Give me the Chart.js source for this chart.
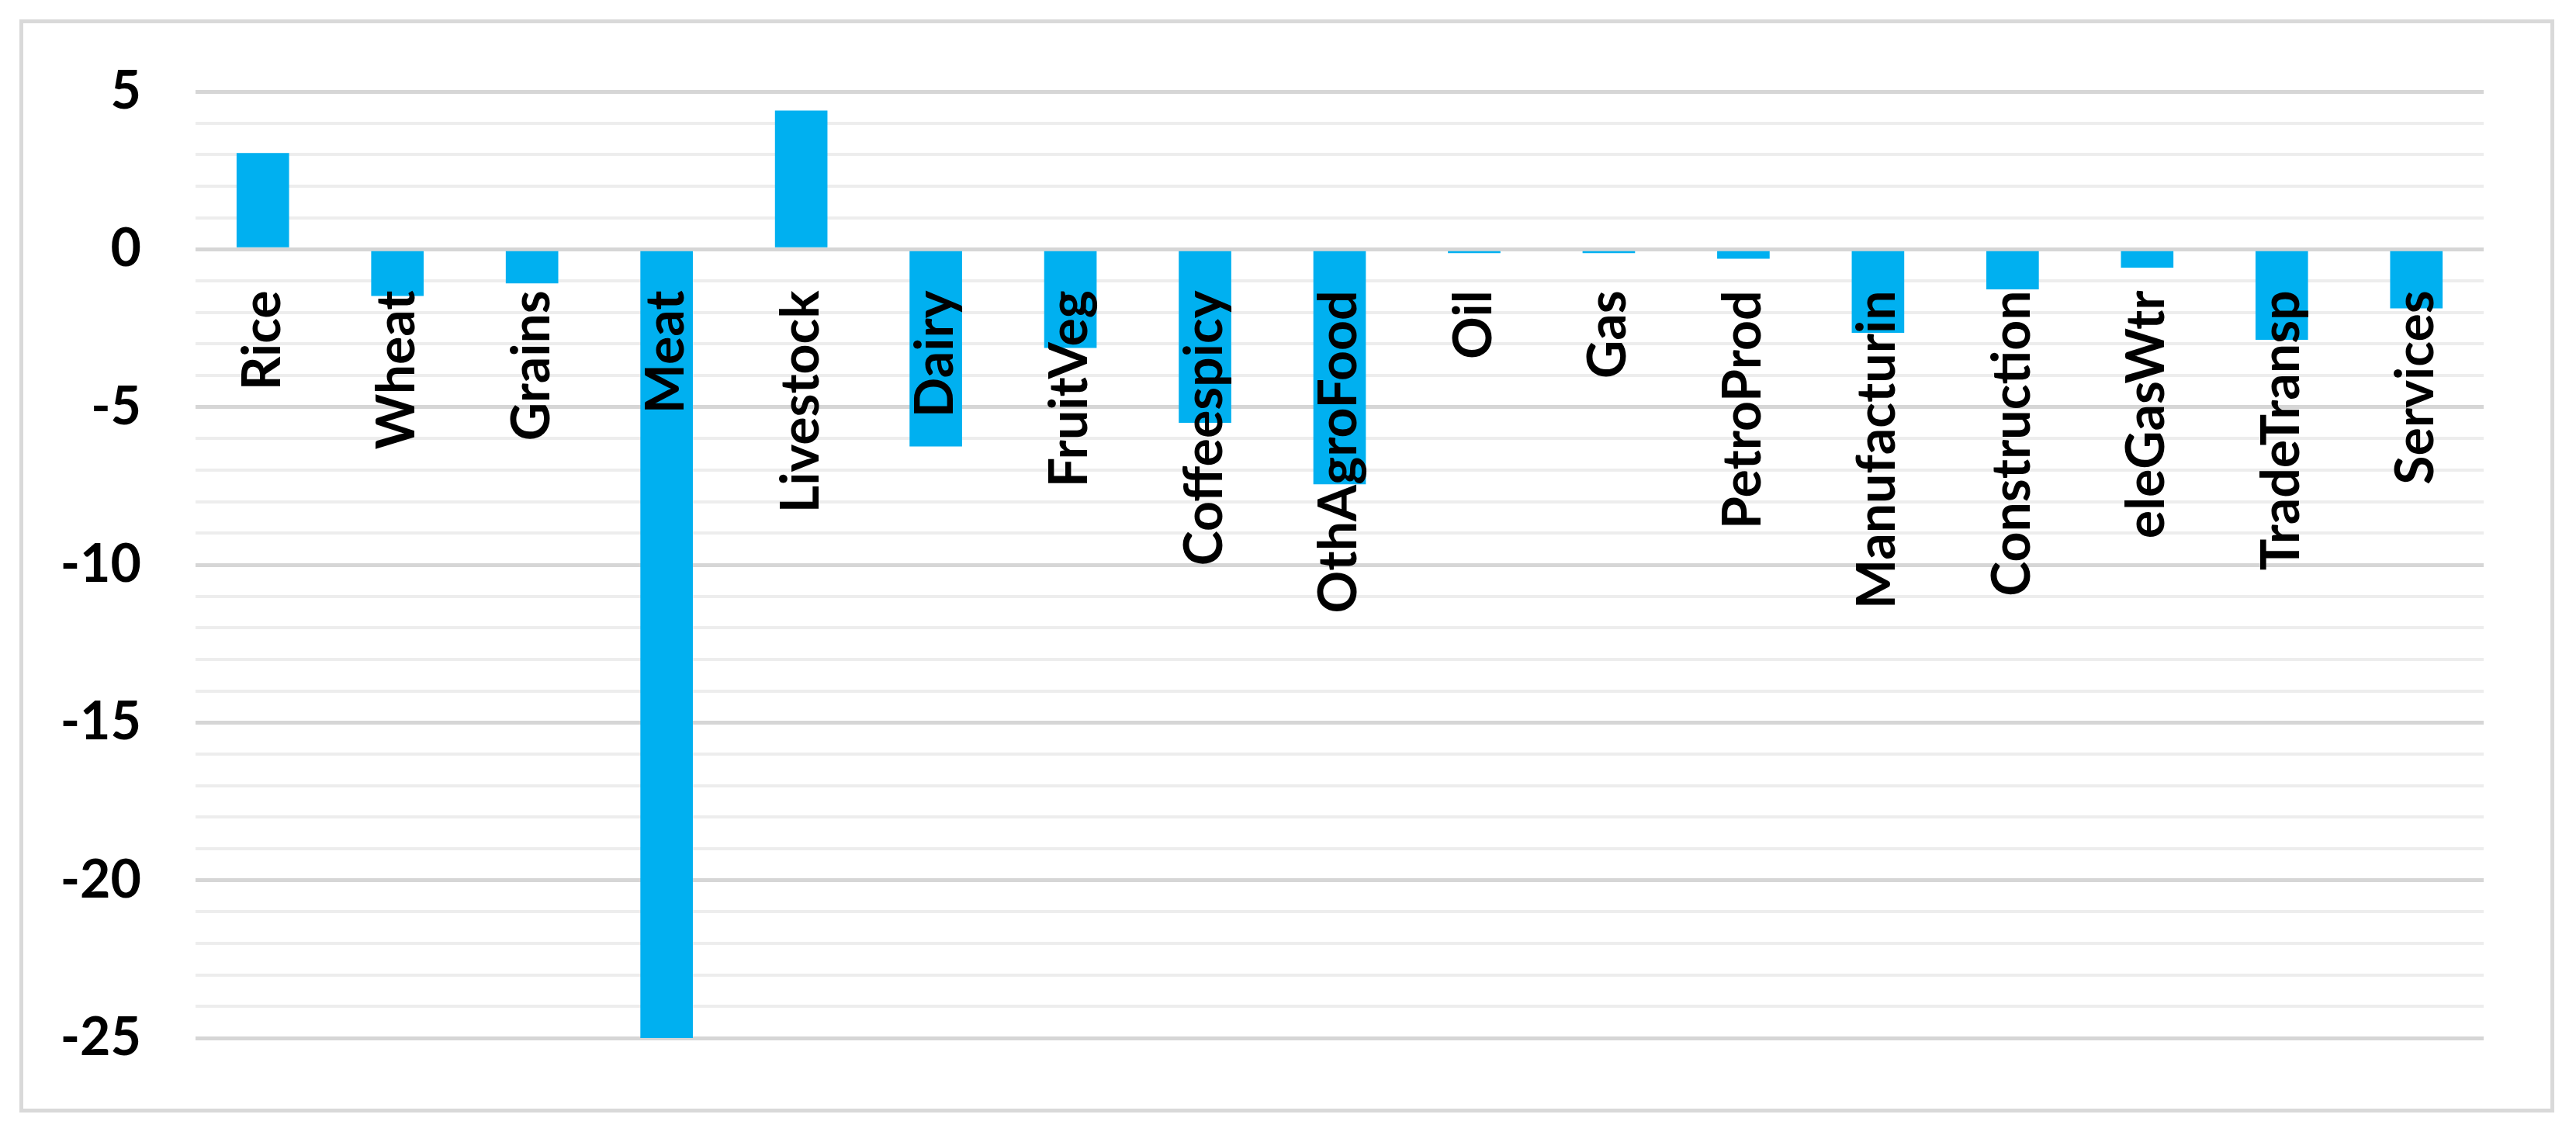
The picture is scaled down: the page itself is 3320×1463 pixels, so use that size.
<!DOCTYPE html>
<html>
<head>
<meta charset="utf-8">
<script src="https://cdn.jsdelivr.net/npm/chart.js@4.4.0/dist/chart.umd.min.js"></script>
<style>
  html, body { margin: 0; padding: 0; background: #ffffff; }
  #wrap { position: relative; width: 3320px; height: 1463px; }
  #frame {
    position: absolute; left: 25px; top: 25px; width: 3267px; height: 1409px;
    box-sizing: border-box; border: 5px solid #d9d9d9;
  }
  canvas { position: absolute; left: 0; top: 0; }
</style>
</head>
<body>
<div id="wrap">
  <div id="frame"></div>
  <canvas id="chart" width="3320" height="1463"></canvas>
</div>
<script>
// sectors along the x axis
const sectors = ["Rice", "Wheat", "Grains", "Meat", "Livestock", "Dairy", "FruitVeg", "Coffeespicy",
  "OthAgroFood", "Oil", "Gas", "PetroProd", "Manufacturin", "Construction", "eleGasWtr", "TradeTransp", "Services"]

// % change per sector
const changes = [3.05, -1.48, -1.08, -25, 4.4, -6.25, -3.13, -5.5,
  -7.45, -0.12, -0.12, -0.3, -2.65, -1.27, -0.58, -2.87, -1.87]

// y axis range and labelled ticks
const yMin = -25
const yMax = 5
const yLabelled = [5, 0, -5, -10, -15, -20, -25]

const labelFont = { family: "Lato, 'Open Sans', sans-serif", size: 68, weight: "bold" }

const ctx = document.getElementById("chart").getContext("2d")

new Chart(ctx, {
  type: "bar",
  data: {
    labels: sectors,
    datasets: [
      {
        data: changes,
        backgroundColor: "#00b0f0",
        borderWidth: 0,
        categoryPercentage: 1,
        barPercentage: 0.39,
      },
    ],
  },
  options: {
    responsive: false,
    animation: false,
    events: [],
    layout: { padding: { top: 118, bottom: 125, right: 119, left: 0 } },
    plugins: { legend: { display: false }, tooltip: { enabled: false } },
    scales: {
      x: {
        position: { y: 0 },
        grid: { display: false },
        border: { display: false },
        afterFit: (scale) => { scale.height = 0 },
        ticks: {
          z: 1,
          color: "#000000",
          font: labelFont,
          padding: 45,
          minRotation: 90,
          maxRotation: 90,
          autoSkip: false,
        },
      },
      y: {
        min: yMin,
        max: yMax,
        afterFit: (scale) => { scale.width = 252 },
        border: { display: false },
        grid: {
          drawTicks: false,
          color: (c) => (c.tick && c.tick.value % 5 === 0 ? "#d6d6d6" : "#ededed"),
          lineWidth: (c) => (c.tick && c.tick.value % 5 === 0 ? 5 : 4),
        },
        ticks: {
          stepSize: 1,
          color: "#000000",
          font: labelFont,
          padding: 70,
          autoSkip: false,
          callback: (value) => (yLabelled.includes(value) ? String(value) : ""),
        },
      },
    },
  },
})
</script>
</body>
</html>
